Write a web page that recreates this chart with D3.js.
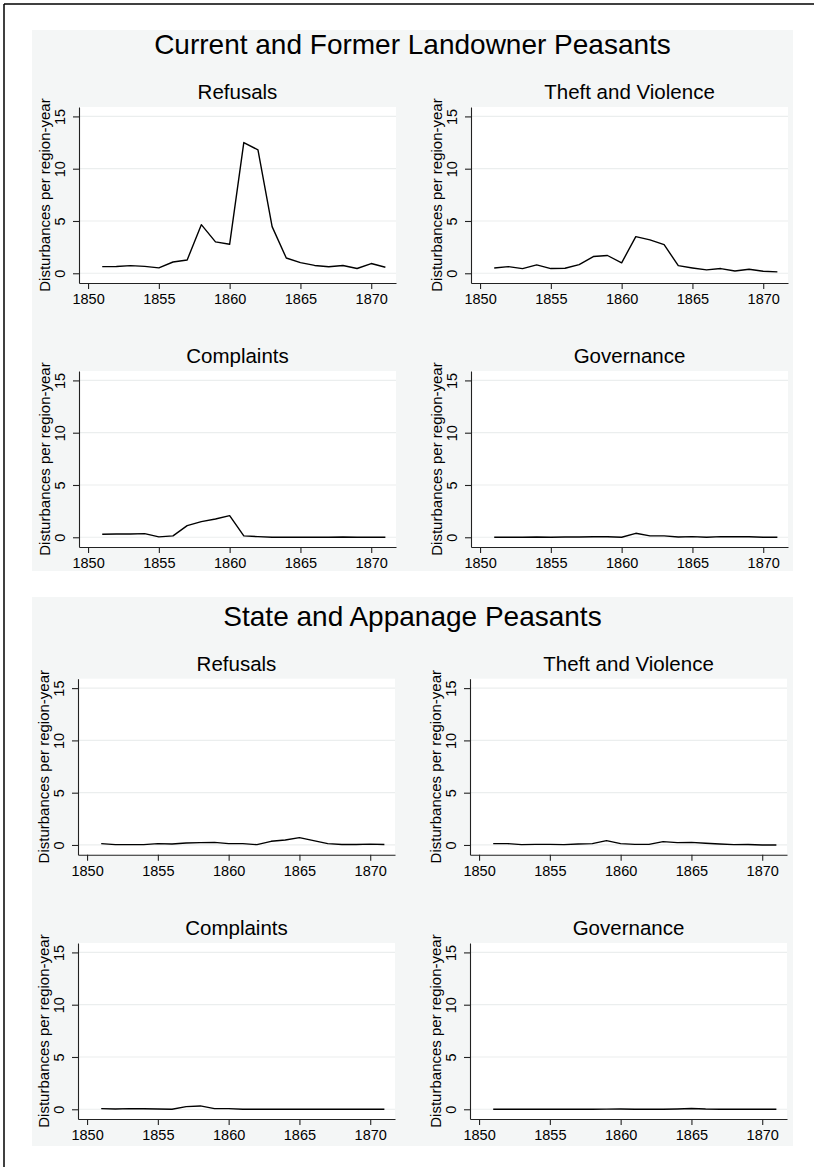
<!DOCTYPE html>
<html>
<head>
<meta charset="utf-8">
<script src="https://cdn.jsdelivr.net/npm/d3@7"></script>
<style>
  body { margin: 0; background: #fff; }
  svg { display: block; font-family: "Liberation Sans", Arial, Helvetica, sans-serif; }
</style>
</head>
<body>
<svg id="chart"></svg>
<script>
// data
const years = [1851, 1852, 1853, 1854, 1855, 1856, 1857, 1858, 1859, 1860, 1861,
               1862, 1863, 1864, 1865, 1866, 1867, 1868, 1869, 1870, 1871];
const xTicks = [1850, 1855, 1860, 1865, 1870];
const yTicks = [0, 5, 10, 15];
const blockTitles = ["Current and Former Landowner Peasants", "State and Appanage Peasants"];
const panelTitles = ["Refusals", "Theft and Violence", "Complaints", "Governance"];
const yLabel = "Disturbances per region-year";

// landowner peasants
const landRefusals   = [0.64, 0.65, 0.73, 0.66, 0.52, 1.08, 1.27, 4.65, 3.0, 2.77, 12.5,
                        11.8, 4.46, 1.46, 1.02, 0.75, 0.62, 0.74, 0.46, 0.93, 0.58];
const landTheft      = [0.51, 0.64, 0.45, 0.8, 0.45, 0.48, 0.83, 1.6, 1.7, 1.0, 3.5,
                        3.2, 2.74, 0.73, 0.51, 0.32, 0.45, 0.22, 0.38, 0.19, 0.13];
const landComplaints = [0.29, 0.32, 0.32, 0.35, 0.04, 0.13, 1.11, 1.5, 1.75, 2.07, 0.13,
                        0.06, 0.0, 0.0, 0.0, 0.0, 0.0, 0.03, 0.0, 0.0, 0.0];
const landGovernance = [0.0, 0.0, 0.0, 0.02, 0.0, 0.02, 0.03, 0.05, 0.05, 0.0, 0.38,
                        0.13, 0.13, 0.03, 0.06, 0.0, 0.06, 0.05, 0.05, 0.0, 0.0];

// state and appanage peasants
const stateRefusals   = [0.13, 0.03, 0.03, 0.03, 0.13, 0.1, 0.19, 0.22, 0.25, 0.13, 0.13,
                         0.03, 0.35, 0.48, 0.7, 0.42, 0.13, 0.05, 0.05, 0.08, 0.05];
const stateTheft      = [0.13, 0.13, 0.03, 0.06, 0.06, 0.03, 0.1, 0.13, 0.41, 0.13, 0.06,
                         0.06, 0.32, 0.22, 0.25, 0.16, 0.1, 0.03, 0.05, 0.0, 0.0];
const stateComplaints = [0.06, 0.03, 0.06, 0.05, 0.03, 0.0, 0.25, 0.32, 0.06, 0.06, 0.0,
                         0.0, 0.0, 0.0, 0.0, 0.0, 0.0, 0.0, 0.0, 0.0, 0.0];
const stateGovernance = [0.0, 0.0, 0.0, 0.0, 0.0, 0.0, 0.0, 0.0, 0.01, 0.03, 0.0,
                         0.0, 0.0, 0.03, 0.08, 0.02, 0.0, 0.0, 0.0, 0.0, 0.0];

const blockSeries = [
    [landRefusals, landTheft, landComplaints, landGovernance],
    [stateRefusals, stateTheft, stateComplaints, stateGovernance]
];

const width = 816, height = 1167;
const svg = d3.select("#chart").attr("width", width).attr("height", height);

// frame (only top and left edges show in the figure)
svg.append("line").attr("x1", 4).attr("x2", 814).attr("y1", 4).attr("y2", 4)
    .attr("stroke", "#000").attr("stroke-width", 1.5);
svg.append("line").attr("x1", 4).attr("x2", 4).attr("y1", 4).attr("y2", height)
    .attr("stroke", "#000").attr("stroke-width", 1.5);

// block layout
const blocks = [
    { top: 30, bottom: 571, titleY: 54, dx: 0, rows: [0, 264] },
    { top: 597, bottom: 1146, titleY: 626, dx: -1, rows: [571.7, 836] }
];
const colOffset = 392;
const plot = { left: 79, right: 396, top: 107, bottom: 283 };
const xDomain = [1849.36, 1871.75];
const yDomain = [-0.93, 15.9];

blocks.forEach((b, bi) => {
    svg.append("rect")
        .attr("x", 32).attr("y", b.top)
        .attr("width", 793 - 32).attr("height", b.bottom - b.top)
        .attr("fill", "#f4f6f6");

    svg.append("text")
        .attr("x", 412.5).attr("y", b.titleY)
        .attr("text-anchor", "middle")
        .attr("font-size", 28)
        .attr("fill", "#000")
        .text(blockTitles[bi]);

    blockSeries[bi].forEach((series, pi) => {
        const col = pi % 2, row = Math.floor(pi / 2);
        const ox = col * colOffset + b.dx;
        const oy = b.rows[row];

        const x = d3.scaleLinear().domain(xDomain).range([plot.left + ox, plot.right + ox]);
        const y = d3.scaleLinear().domain(yDomain).range([plot.bottom + oy, plot.top + oy]);

        const g = svg.append("g");

        g.append("rect")
            .attr("x", x.range()[0]).attr("y", y.range()[1])
            .attr("width", x.range()[1] - x.range()[0])
            .attr("height", y.range()[0] - y.range()[1])
            .attr("fill", "#fff");

        g.append("g").selectAll("line")
            .data(yTicks)
            .join("line")
            .attr("x1", x.range()[0]).attr("x2", x.range()[1])
            .attr("y1", d => y(d)).attr("y2", d => y(d))
            .attr("stroke", "#ebeeee").attr("stroke-width", 1.2);

        // title
        g.append("text")
            .attr("x", (x.range()[0] + x.range()[1]) / 2)
            .attr("y", plot.top + oy - 8)
            .attr("text-anchor", "middle")
            .attr("font-size", 20.5)
            .attr("fill", "#000")
            .text(panelTitles[pi]);

        // y axis
        const yAxis = g.append("g")
            .attr("transform", `translate(${x.range()[0]},0)`)
            .call(d3.axisLeft(y).tickValues(yTicks).tickSize(6).tickSizeOuter(0));
        yAxis.selectAll("text")
            .attr("transform", "rotate(-90)")
            .attr("x", 0).attr("y", -14).attr("dy", 0)
            .attr("text-anchor", "middle")
            .attr("font-size", 14.5)
            .attr("font-family", null)
            .attr("fill", "#000");

        // x axis
        const xAxis = g.append("g")
            .attr("transform", `translate(0,${y.range()[0]})`)
            .call(d3.axisBottom(x).tickValues(xTicks).tickFormat(d3.format("d")).tickSize(6).tickSizeOuter(0));
        xAxis.selectAll("text")
            .attr("y", 21).attr("dy", 0)
            .attr("font-size", 14.5)
            .attr("fill", "#000");

        g.selectAll(".domain, .tick line").attr("stroke", "#222").attr("stroke-width", 1.1);
        g.selectAll(".tick text").attr("font-family", null);

        // y axis title
        g.append("text")
            .attr("transform", `translate(${x.range()[0] - 29.5},${(y.range()[0] + y.range()[1]) / 2}) rotate(-90)`)
            .attr("text-anchor", "middle")
            .attr("font-size", 15)
            .attr("fill", "#000")
            .text(yLabel);

        // series line
        g.append("path")
            .datum(series)
            .attr("fill", "none")
            .attr("stroke", "#000")
            .attr("stroke-width", 1.4)
            .attr("stroke-linejoin", "round")
            .attr("d", d3.line()
                .x((d, i) => x(years[i]))
                .y(d => y(d)));
    });
});
</script>
</body>
</html>
